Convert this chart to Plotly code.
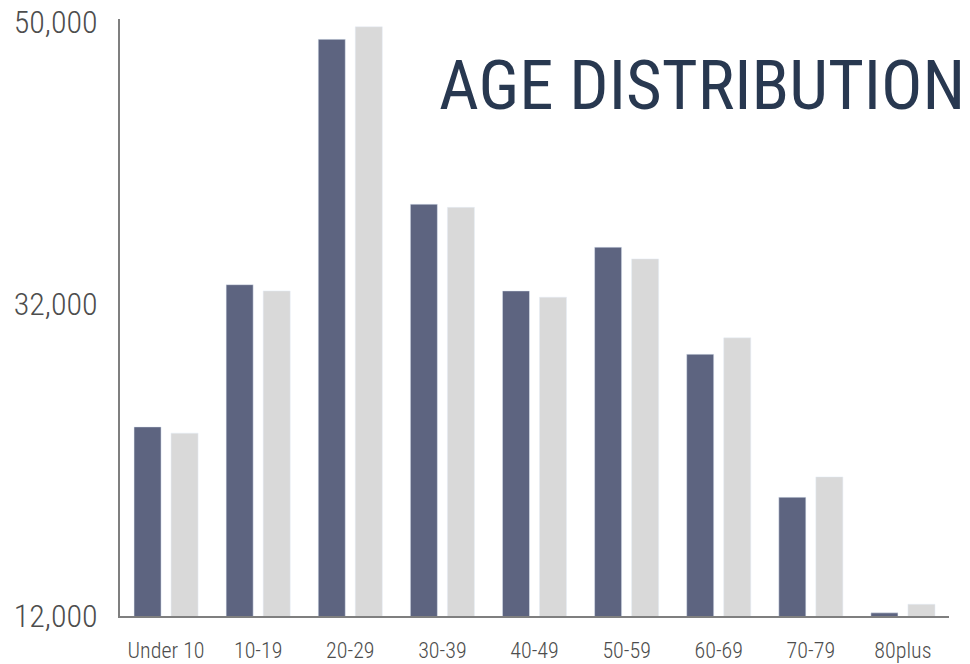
import plotly.graph_objects as go

categories = ["Under 10", "10-19", "20-29", "30-39", "40-49", "50-59", "60-69", "70-79", "80plus"]
series_a = [24100, 33200, 48900, 38350, 32800, 35600, 28750, 19600, 12200]
series_b = [23700, 32800, 49700, 38150, 32400, 34850, 29800, 20900, 12750]
tick_vals = [12000, 32000, 50000]
tick_text = ["12,000", "32,000", "50,000"]

FONT = "Liberation Sans Narrow, Roboto Condensed, Arial Narrow, sans-serif"

fig = go.Figure()
fig.add_trace(go.Bar(x=categories, y=series_a, marker_color="#5d6480", name="A"))
fig.add_trace(go.Bar(x=categories, y=series_b, marker_color="#d9d9d9", name="B"))

fig.update_layout(
    width=970, height=664,
    margin=dict(l=120, r=21, t=19, b=48),
    paper_bgcolor="white", plot_bgcolor="white",
    barmode="group", bargap=0.196, bargroupgap=0.27,
    showlegend=False,
    font=dict(family=FONT, color="#4d4d4d"),
)
fig.update_xaxes(
    automargin=False, ticklabeloverflow="allow",
    showline=True, linecolor="#7f7f7f", linewidth=2,
    showgrid=False, ticks="", tickfont=dict(size=22, color="#4d4d4d", weight=300),
    ticklabelstandoff=14,
)
fig.update_yaxes(
    automargin=False, ticklabeloverflow="allow",
    range=[12000, 50200], tickvals=tick_vals, ticktext=tick_text,
    showline=True, linecolor="#7f7f7f", linewidth=2,
    showgrid=False, zeroline=False, ticks="",
    tickfont=dict(size=32, color="#4d4d4d", weight=300), ticklabelstandoff=14,
)
fig.add_annotation(
    text="AGE DISTRIBUTION", xref="paper", yref="paper",
    x=1.0217, y=0.888, xanchor="right", yanchor="middle", showarrow=False,
    font=dict(family=FONT, size=69, color="#283850"),
)
fig.write_html("out.html", config={"displayModeBar": False},
               post_script="document.body.style.margin='0';")
